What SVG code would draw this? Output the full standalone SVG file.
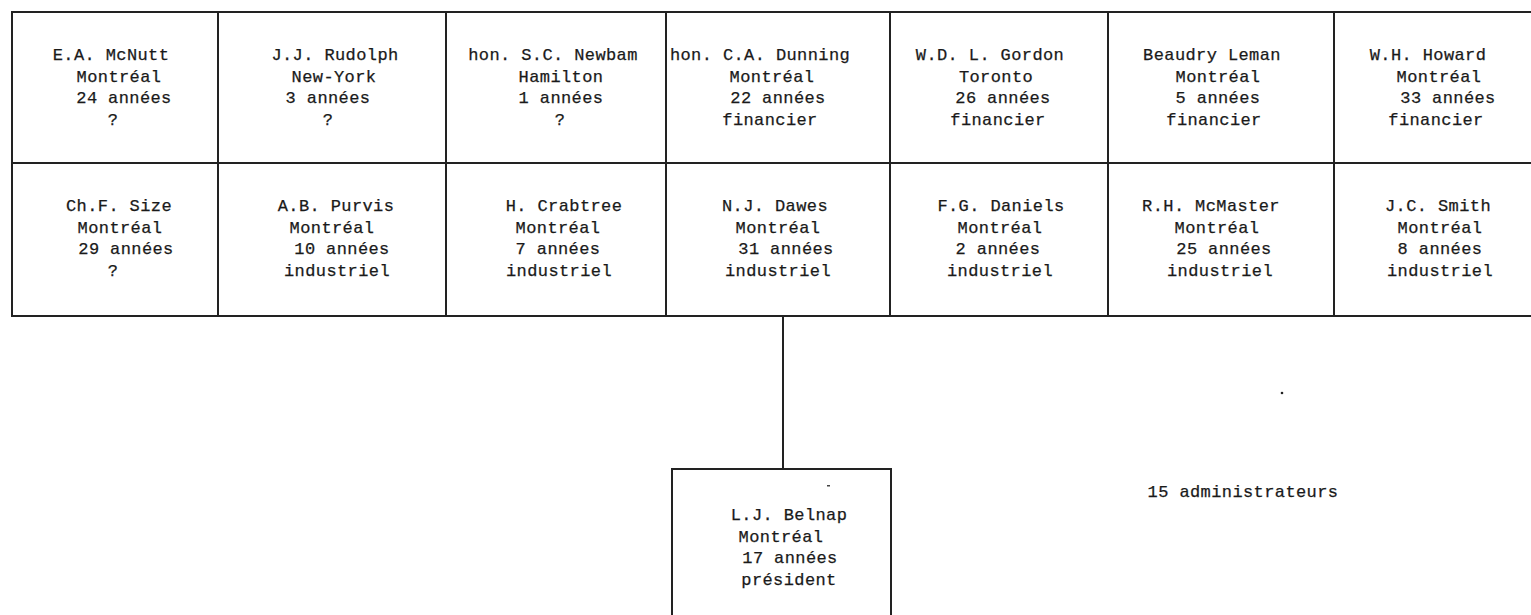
<svg xmlns="http://www.w3.org/2000/svg" width="1531" height="615" viewBox="0 0 1531 615">
<style>
.box{fill:#ffffff;stroke:#222222;stroke-width:2}
.t{font-family:"Liberation Mono","DejaVu Sans Mono",monospace;font-size:17px;letter-spacing:0.4px;fill:#1a1a1a;stroke:#1a1a1a;stroke-width:0.25;text-anchor:middle}
.conn{stroke:#222222;stroke-width:2;fill:none}
</style>
<rect x="0" y="0" width="1531" height="615" fill="#ffffff"/>
<g id="mcnutt"><rect class="box" x="12" y="12" width="206" height="151"/>
<text class="t"><tspan x="111" y="60">E.A. McNutt</tspan><tspan x="119" y="81.5">Montréal</tspan><tspan x="124" y="103">24 années</tspan><tspan x="113" y="124.5">?</tspan></text></g>
<g id="rudolph"><rect class="box" x="218" y="12" width="228" height="151"/>
<text class="t"><tspan x="335" y="60">J.J. Rudolph</tspan><tspan x="334" y="81.5">New-York</tspan><tspan x="328" y="103">3 années</tspan><tspan x="328" y="124.5">?</tspan></text></g>
<g id="newbam"><rect class="box" x="446" y="12" width="220" height="151"/>
<text class="t"><tspan x="553" y="60">hon. S.C. Newbam</tspan><tspan x="561" y="81.5">Hamilton</tspan><tspan x="561" y="103">1 années</tspan><tspan x="560" y="124.5">?</tspan></text></g>
<g id="dunning"><rect class="box" x="666" y="12" width="224" height="151"/>
<text class="t"><tspan x="760" y="60">hon. C.A. Dunning</tspan><tspan x="772" y="81.5">Montréal</tspan><tspan x="778" y="103">22 années</tspan><tspan x="770" y="124.5">financier</tspan></text></g>
<g id="gordon"><rect class="box" x="890" y="12" width="218" height="151"/>
<text class="t"><tspan x="990" y="60">W.D. L. Gordon</tspan><tspan x="996" y="81.5">Toronto</tspan><tspan x="1003" y="103">26 années</tspan><tspan x="998" y="124.5">financier</tspan></text></g>
<g id="leman"><rect class="box" x="1108" y="12" width="226" height="151"/>
<text class="t"><tspan x="1212" y="60">Beaudry Leman</tspan><tspan x="1218" y="81.5">Montréal</tspan><tspan x="1218" y="103">5 années</tspan><tspan x="1214" y="124.5">financier</tspan></text></g>
<g id="howard"><rect class="box" x="1334" y="12" width="202" height="151"/>
<text class="t"><tspan x="1428" y="60">W.H. Howard</tspan><tspan x="1439" y="81.5">Montréal</tspan><tspan x="1448" y="103">33 années</tspan><tspan x="1436" y="124.5">financier</tspan></text></g>
<g id="size"><rect class="box" x="12" y="163" width="206" height="153"/>
<text class="t"><tspan x="119" y="211">Ch.F. Size</tspan><tspan x="120" y="232.5">Montréal</tspan><tspan x="126" y="254">29 années</tspan><tspan x="113" y="275.5">?</tspan></text></g>
<g id="purvis"><rect class="box" x="218" y="163" width="228" height="153"/>
<text class="t"><tspan x="336" y="211">A.B. Purvis</tspan><tspan x="332" y="232.5">Montréal</tspan><tspan x="342" y="254">10 années</tspan><tspan x="337" y="275.5">industriel</tspan></text></g>
<g id="crabtree"><rect class="box" x="446" y="163" width="220" height="153"/>
<text class="t"><tspan x="564" y="211">H. Crabtree</tspan><tspan x="558" y="232.5">Montréal</tspan><tspan x="558" y="254">7 années</tspan><tspan x="559" y="275.5">industriel</tspan></text></g>
<g id="dawes"><rect class="box" x="666" y="163" width="224" height="153"/>
<text class="t"><tspan x="775" y="211">N.J. Dawes</tspan><tspan x="778" y="232.5">Montréal</tspan><tspan x="786" y="254">31 années</tspan><tspan x="778" y="275.5">industriel</tspan></text></g>
<g id="daniels"><rect class="box" x="890" y="163" width="218" height="153"/>
<text class="t"><tspan x="1001" y="211">F.G. Daniels</tspan><tspan x="1000" y="232.5">Montréal</tspan><tspan x="998" y="254">2 années</tspan><tspan x="1000" y="275.5">industriel</tspan></text></g>
<g id="mcmaster"><rect class="box" x="1108" y="163" width="226" height="153"/>
<text class="t"><tspan x="1211" y="211">R.H. McMaster</tspan><tspan x="1217" y="232.5">Montréal</tspan><tspan x="1224" y="254">25 années</tspan><tspan x="1220" y="275.5">industriel</tspan></text></g>
<g id="smith"><rect class="box" x="1334" y="163" width="202" height="153"/>
<text class="t"><tspan x="1438" y="211">J.C. Smith</tspan><tspan x="1440" y="232.5">Montréal</tspan><tspan x="1440" y="254">8 années</tspan><tspan x="1440" y="275.5">industriel</tspan></text></g>
<g id="connectors"><line class="conn" x1="783" y1="316" x2="783" y2="469"/></g>
<g id="belnap"><rect class="box" x="672" y="469" width="219" height="160"/>
<text class="t"><tspan x="789" y="520">L.J. Belnap</tspan><tspan x="781" y="541.5">Montréal</tspan><tspan x="790" y="563">17 années</tspan><tspan x="789" y="584.5">président</tspan></text></g>
<g id="note"><text class="t" x="1243" y="497">15 administrateurs</text></g>
<circle cx="1282" cy="393" r="1.3" fill="#222222"/>
<rect x="827" y="485" width="3" height="1.5" fill="#444444"/>
</svg>
